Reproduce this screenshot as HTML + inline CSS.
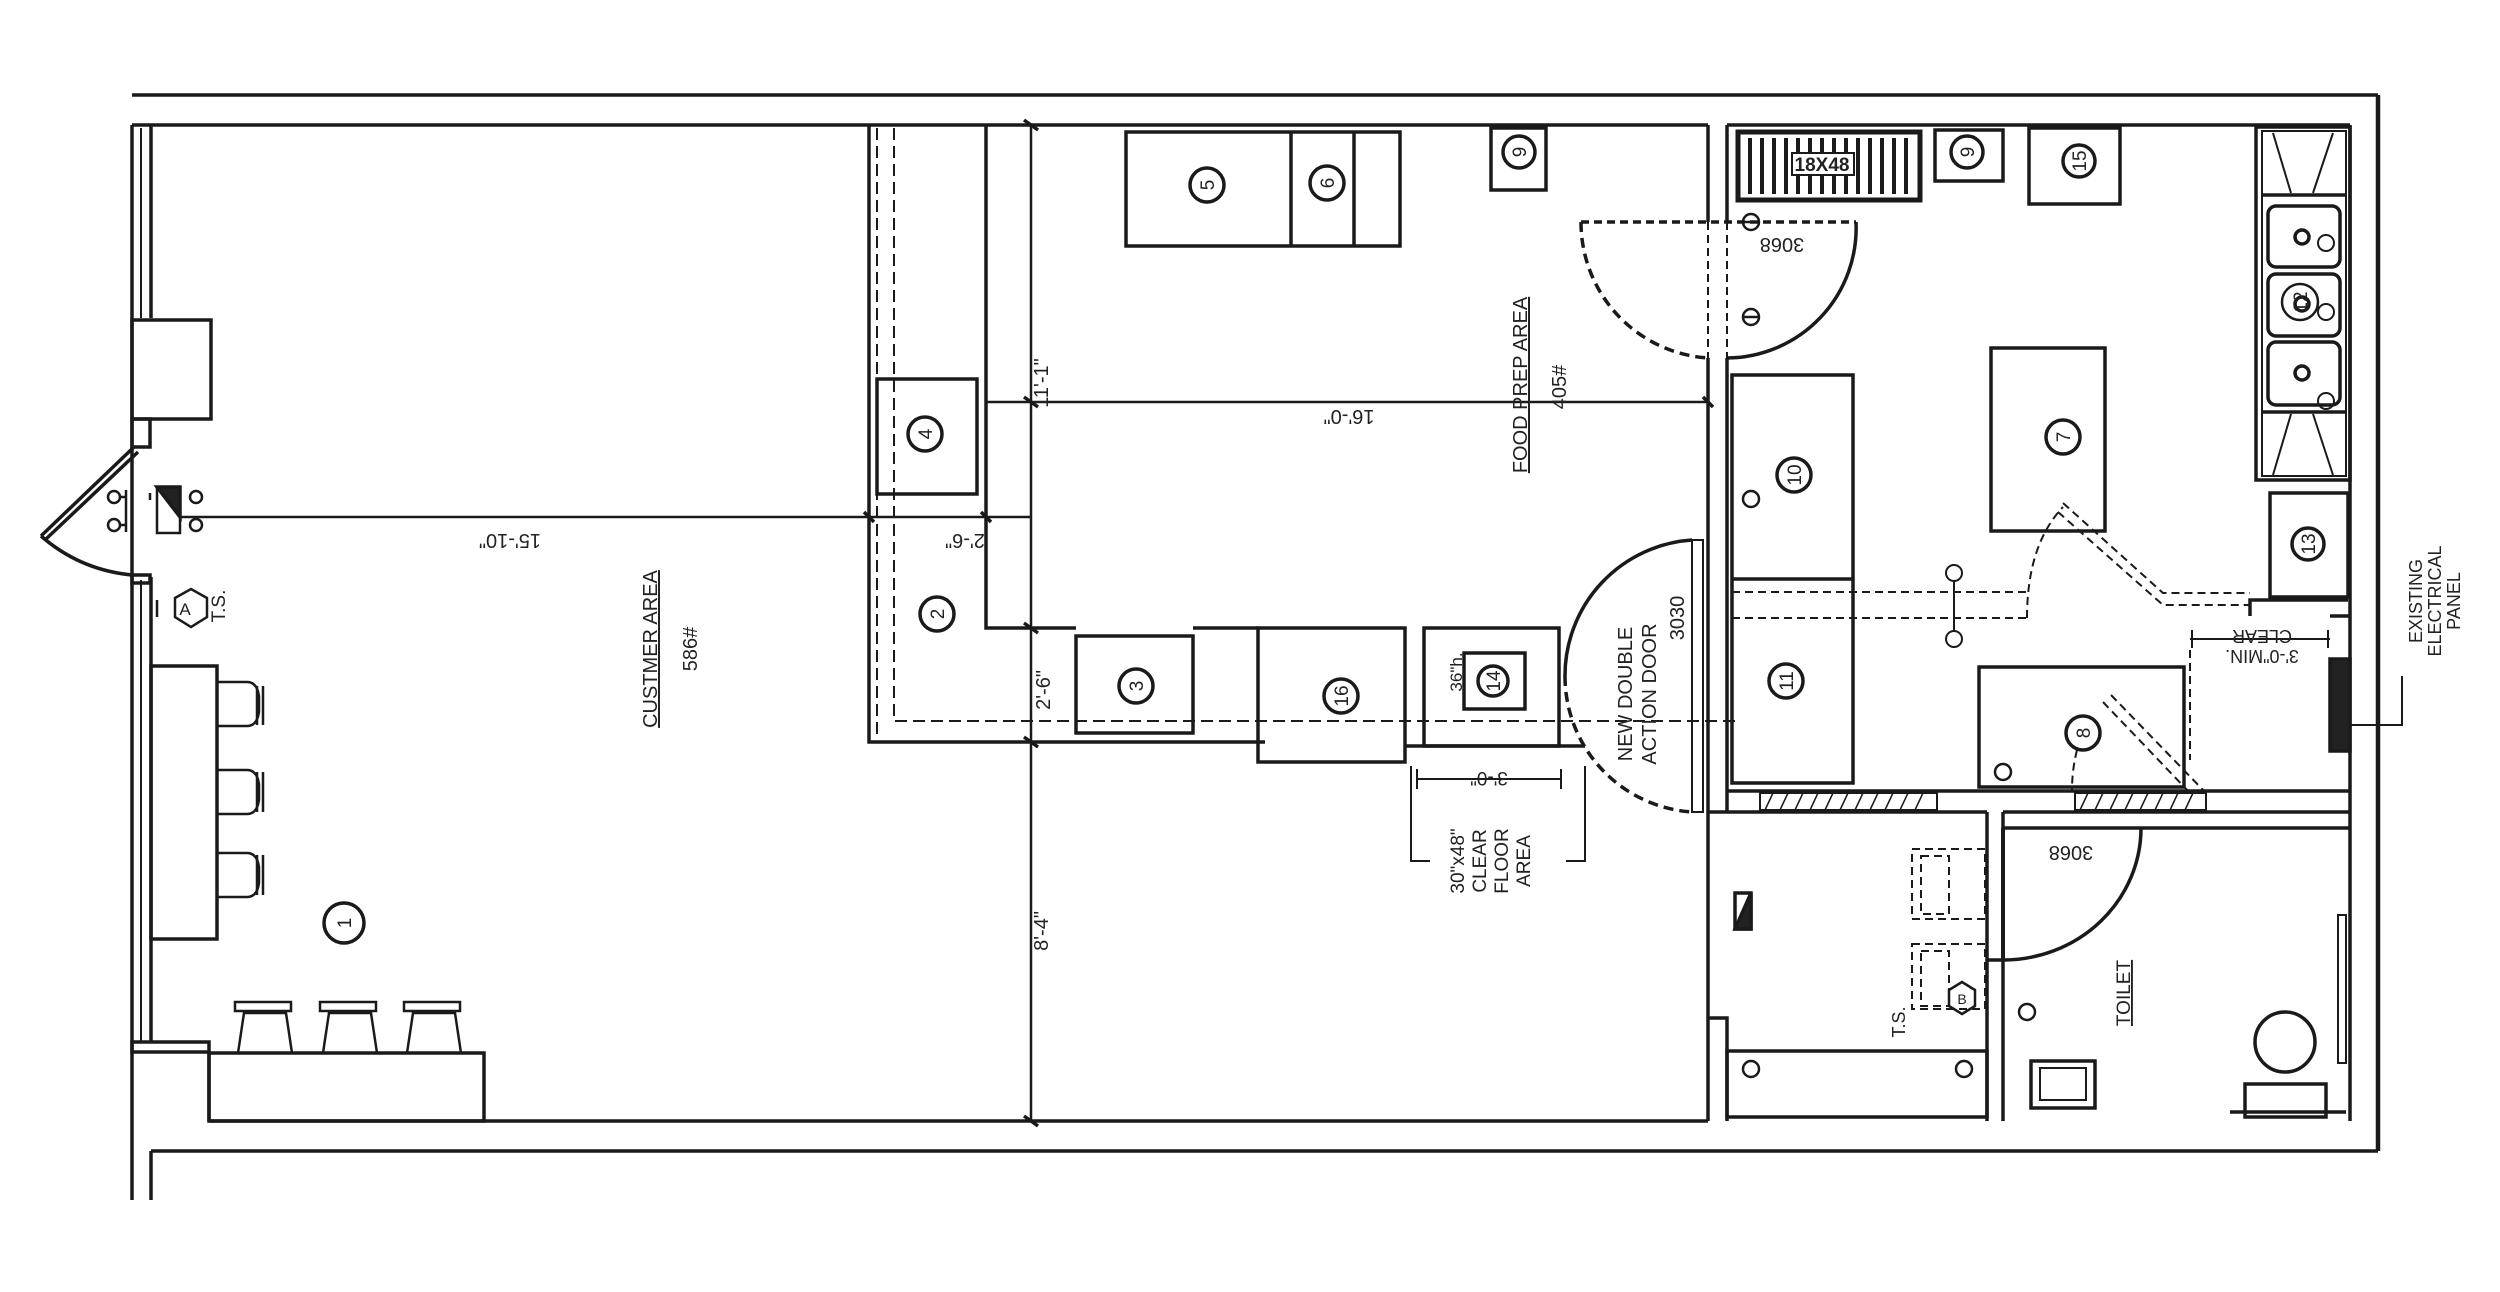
<!DOCTYPE html>
<html><head><meta charset="utf-8"><style>
html,body{margin:0;padding:0;background:#fff}
svg{display:block}
text{font-family:"Liberation Sans",sans-serif;fill:#222}
</style></head><body>
<svg width="2500" height="1292" viewBox="0 0 2500 1292" xmlns="http://www.w3.org/2000/svg">
<g stroke="#1a1a1a" stroke-width="3.5" fill="none">
<line x1="132" y1="95" x2="2378" y2="95"/>
<line x1="2378" y1="95" x2="2378" y2="1151" stroke-width="4.5"/>
<line x1="151" y1="1151" x2="2378" y2="1151"/>
<line x1="151" y1="1151" x2="151" y2="1200"/>
<line x1="132" y1="125" x2="132" y2="1200"/>
<line x1="132" y1="125" x2="1708" y2="125"/>
<line x1="1727" y1="125" x2="2350" y2="125"/>
<line x1="2350" y1="125" x2="2350" y2="1121"/>
<line x1="209" y1="1121" x2="1708" y2="1121"/>
<line x1="151" y1="125" x2="151" y2="318"/>
<line x1="141" y1="128" x2="141" y2="318" stroke-width="2"/>
<rect x="132" y="320" width="79" height="99"/>
<rect x="132" y="419" width="18" height="28"/>
<line x1="151" y1="577" x2="151" y2="1042"/>
<line x1="141" y1="580" x2="141" y2="1042" stroke-width="2"/>
<rect x="132" y="575" width="18" height="8"/>
<rect x="132" y="1042" width="77" height="10"/>
<line x1="209" y1="1052" x2="209" y2="1121"/>
<line x1="134" y1="447" x2="41" y2="536"/>
<line x1="138" y1="452" x2="46" y2="539"/>
<path d="M41 536 Q80 570 132 575"/>
<rect x="151" y="666" width="66" height="273"/>
<g stroke-width="2.5">
<path d="M217 682 h30 q10 0 12 14 v16 q-2 14 -12 14 h-30"/><line x1="257" y1="686" x2="257" y2="725"/><line x1="263" y1="686" x2="263" y2="725"/>
<path d="M217 770 h30 q10 0 12 14 v16 q-2 14 -12 14 h-30"/><line x1="257" y1="772" x2="257" y2="812"/><line x1="263" y1="772" x2="263" y2="812"/>
<path d="M217 853 h30 q10 0 12 14 v16 q-2 14 -12 14 h-30"/><line x1="257" y1="855" x2="257" y2="895"/><line x1="263" y1="855" x2="263" y2="895"/>
</g>
<rect x="209" y="1053" width="275" height="68"/>
<g stroke-width="2.5">
<rect x="235" y="1002" width="56" height="9"/><path d="M238 1053 l6 -40 h42 l6 40"/>
<rect x="320" y="1002" width="56" height="9"/><path d="M323 1053 l6 -40 h42 l6 40"/>
<rect x="404" y="1002" width="56" height="9"/><path d="M407 1053 l6 -40 h42 l6 40"/>
</g>
<circle cx="344" cy="923" r="20"/>
<g stroke-width="2.5">
<circle cx="114" cy="497" r="6"/><circle cx="114" cy="525" r="6"/><line x1="120" y1="497" x2="126" y2="497"/><line x1="120" y1="525" x2="126" y2="525"/><line x1="126" y1="490" x2="126" y2="532"/>
<line x1="150" y1="493" x2="150" y2="500"/>
<rect x="157" y="487" width="23" height="46"/>
<circle cx="196" cy="497" r="6"/><circle cx="196" cy="525" r="6"/>
</g>
<polygon points="157,487 180,487 180,517" fill="#222"/>
<line x1="180" y1="517" x2="1031" y2="517" stroke-width="2.5"/>
<polygon points="175,598 191,589 207,598 207,617 191,627 175,617" stroke-width="2.5"/>
<line x1="157" y1="600" x2="157" y2="617" stroke-width="2.5"/>
<polyline points="869,125 869,742 1265,742"/>
<polyline points="877,128 877,735" stroke-dasharray="12 6" stroke-width="2"/>
<polyline points="894,128 894,721 1740,721" stroke-dasharray="12 6" stroke-width="2"/>
<polyline points="986,125 986,628 1076,628"/>
<rect x="877" y="379" width="100" height="115"/>
<circle cx="925" cy="434" r="17"/>
<circle cx="937" cy="614" r="17"/>
<rect x="1076" y="636" width="117" height="97"/>
<circle cx="1136" cy="686" r="17"/>
<line x1="1193" y1="628" x2="1258" y2="628"/>
<line x1="1031" y1="125" x2="1031" y2="1121" stroke-width="2.5"/>
<line x1="1024" y1="120" x2="1038" y2="130"/><line x1="1024" y1="397" x2="1038" y2="407"/><line x1="1024" y1="623" x2="1038" y2="633"/><line x1="1024" y1="737" x2="1038" y2="747"/><line x1="1024" y1="1116" x2="1038" y2="1126"/>
<line x1="986" y1="402" x2="1708" y2="402" stroke-width="2.5"/>
<line x1="864" y1="512" x2="874" y2="522"/><line x1="981" y1="512" x2="991" y2="522"/><line x1="1703" y1="397" x2="1713" y2="407"/>
<rect x="1126" y="132" width="274" height="114"/>
<line x1="1291" y1="132" x2="1291" y2="246"/><line x1="1354" y1="132" x2="1354" y2="246"/>
<circle cx="1207" cy="185" r="17"/><circle cx="1327" cy="183" r="17"/>
<rect x="1491" y="128" width="55" height="62"/><circle cx="1519" cy="152" r="16"/>
<rect x="1258" y="628" width="147" height="134"/><circle cx="1341" cy="696" r="17"/>
<rect x="1424" y="628" width="135" height="118"/><rect x="1464" y="653" width="61" height="56"/><circle cx="1493" cy="681" r="15"/>
<line x1="1405" y1="746" x2="1585" y2="746"/>
<polyline points="1411,766 1411,861 1430,861" stroke-width="2"/><polyline points="1585,766 1585,861 1566,861" stroke-width="2"/>
<line x1="1417" y1="779" x2="1561" y2="779" stroke-width="2"/>
<line x1="1417" y1="769" x2="1417" y2="789" stroke-width="2"/><line x1="1561" y1="769" x2="1561" y2="789" stroke-width="2"/>
<line x1="1708" y1="125" x2="1708" y2="222"/><line x1="1727" y1="125" x2="1727" y2="222"/>
<line x1="1708" y1="358" x2="1708" y2="1121"/><line x1="1727" y1="358" x2="1727" y2="812"/>
<line x1="1708" y1="222" x2="1708" y2="358" stroke-dasharray="8 5" stroke-width="2"/><line x1="1727" y1="222" x2="1727" y2="358" stroke-dasharray="8 5" stroke-width="2"/>
<line x1="1581" y1="222" x2="1856" y2="222" stroke-dasharray="8 5"/>
<path d="M1581 222 A136 136 0 0 0 1708 358" stroke-dasharray="10 6"/>
<path d="M1856 222 A130 130 0 0 1 1727 358"/>
<g stroke-width="2.5"><circle cx="1751" cy="222" r="8"/><circle cx="1751" cy="317" r="8"/><line x1="1743" y1="222" x2="1759" y2="222"/><line x1="1743" y1="317" x2="1759" y2="317"/></g>
<rect x="1738" y="132" width="182" height="68" stroke-width="5"/>
<g stroke-width="4">
<line x1="1750" y1="138" x2="1750" y2="194"/><line x1="1762" y1="138" x2="1762" y2="194"/><line x1="1774" y1="138" x2="1774" y2="194"/><line x1="1786" y1="138" x2="1786" y2="194"/><line x1="1798" y1="138" x2="1798" y2="194"/><line x1="1810" y1="138" x2="1810" y2="194"/><line x1="1822" y1="138" x2="1822" y2="194"/><line x1="1834" y1="138" x2="1834" y2="194"/><line x1="1846" y1="138" x2="1846" y2="194"/><line x1="1858" y1="138" x2="1858" y2="194"/><line x1="1870" y1="138" x2="1870" y2="194"/><line x1="1882" y1="138" x2="1882" y2="194"/><line x1="1894" y1="138" x2="1894" y2="194"/><line x1="1906" y1="138" x2="1906" y2="194"/>
</g>
<rect x="1792" y="153" width="62" height="22" fill="#fff" stroke-width="2"/>
<rect x="1935" y="130" width="68" height="51"/><circle cx="1967" cy="152" r="16"/>
<rect x="2029" y="128" width="91" height="76"/><circle cx="2079" cy="161" r="16"/>
<rect x="2256" y="127" width="94" height="353"/>
<rect x="2262" y="131" width="84" height="345" stroke-width="2"/>
<line x1="2262" y1="195" x2="2346" y2="195"/><line x1="2262" y1="412" x2="2346" y2="412"/>
<polyline points="2273,133 2291,193" stroke-width="2"/><polyline points="2333,133 2313,193" stroke-width="2"/>
<polyline points="2273,475 2291,414" stroke-width="2"/><polyline points="2333,475 2313,414" stroke-width="2"/>
<rect x="2268" y="206" width="72" height="61" rx="8"/><rect x="2268" y="274" width="72" height="62" rx="8"/><rect x="2268" y="342" width="72" height="63" rx="8"/>
<circle cx="2302" cy="237" r="7"/><circle cx="2302" cy="304" r="7"/><circle cx="2302" cy="373" r="7"/>
<circle cx="2300" cy="302" r="18" stroke-width="2.5"/>
<g stroke-width="2"><circle cx="2326" cy="243" r="8"/><circle cx="2326" cy="312" r="8"/><circle cx="2326" cy="401" r="8"/></g>
<rect x="2270" y="493" width="78" height="104"/><circle cx="2308" cy="544" r="16"/>
<polyline points="2250,616 2250,600 2348,600"/><line x1="2330" y1="616" x2="2350" y2="616"/>
<rect x="1991" y="348" width="114" height="183"/><circle cx="2063" cy="437" r="17"/>
<rect x="1732" y="375" width="121" height="408"/><line x1="1732" y1="579" x2="1853" y2="579"/>
<circle cx="1794" cy="475" r="17"/><circle cx="1786" cy="681" r="17"/>
<circle cx="1751" cy="499" r="8" stroke-width="2.5"/>
<g stroke-dasharray="8 5" stroke-width="2">
<polyline points="1732,592 2027,592"/><polyline points="1732,618 2027,618"/>
<path d="M2027 618 Q2027 545 2063 507"/>
<polyline points="2063,503 2163,593 2250,593"/><polyline points="2058,512 2163,605 2250,605"/>
</g>
<g stroke-width="2"><circle cx="1954" cy="573" r="8"/><circle cx="1954" cy="639" r="8"/><line x1="1954" y1="581" x2="1954" y2="631"/></g>
<line x1="2190" y1="639" x2="2330" y2="639" stroke-width="2"/>
<line x1="2192" y1="630" x2="2192" y2="648" stroke-width="2"/><line x1="2328" y1="630" x2="2328" y2="648" stroke-width="2"/>
<line x1="2190" y1="650" x2="2190" y2="760" stroke-dasharray="8 5" stroke-width="2"/>
<rect x="1979" y="667" width="205" height="120"/><circle cx="2083" cy="733" r="17"/>
<polyline points="2111,695 2206,793" stroke-dasharray="8 5" stroke-width="2"/><polyline points="2103,702 2190,793" stroke-dasharray="8 5" stroke-width="2"/>
<path d="M2077 750 Q2072 770 2072 790" stroke-dasharray="8 5" stroke-width="2"/>
<circle cx="2003" cy="772" r="8" stroke-width="2.5"/>
<rect x="2330" y="659" width="20" height="92" fill="#222"/>
<polyline points="2350,725 2402,725 2402,676" stroke-width="2"/>
<line x1="1727" y1="791" x2="2350" y2="791"/><line x1="1708" y1="812" x2="1987" y2="812"/><line x1="2003" y1="812" x2="2350" y2="812"/>
<rect x="1760" y="793" width="177" height="17" stroke-width="2"/><rect x="2075" y="793" width="131" height="17" stroke-width="2"/>
<g stroke-width="1.5">
<path d="M1765 810 l8 -17 M1780 810 l8 -17 M1795 810 l8 -17 M1810 810 l8 -17 M1825 810 l8 -17 M1840 810 l8 -17 M1855 810 l8 -17 M1870 810 l8 -17 M1885 810 l8 -17 M1900 810 l8 -17 M1915 810 l8 -17"/>
<path d="M2080 810 l8 -17 M2095 810 l8 -17 M2110 810 l8 -17 M2125 810 l8 -17 M2140 810 l8 -17 M2155 810 l8 -17 M2170 810 l8 -17 M2185 810 l8 -17"/>
</g>
<rect x="1692" y="540" width="11" height="272" stroke-width="2"/>
<path d="M1692 540 A136 136 0 0 0 1565 676"/>
<path d="M1565 676 A136 136 0 0 0 1692 812" stroke-dasharray="10 6"/>
<polyline points="1987,812 1987,1121"/>
<polyline points="2003,812 2003,828"/>
<polyline points="2003,960 2003,1121"/>
<line x1="2003" y1="828" x2="2350" y2="828"/>
<line x1="2003" y1="828" x2="2003" y2="960" stroke-width="4"/>
<path d="M2141 828 A138 132 0 0 1 2003 960"/>
<line x1="1987" y1="960" x2="2003" y2="960"/>
<circle cx="2285" cy="1042" r="30"/>
<rect x="2245" y="1084" width="81" height="33"/>
<line x1="2230" y1="1112" x2="2346" y2="1112"/>
<rect x="2031" y="1061" width="64" height="47"/><rect x="2040" y="1068" width="46" height="32" stroke-width="2"/>
<rect x="2338" y="915" width="8" height="148" stroke-width="2"/>
<circle cx="2027" cy="1012" r="8" stroke-width="2.5"/>
<polyline points="1708,1018 1727,1018 1727,1121"/>
<rect x="1727" y="1051" width="260" height="66"/>
<circle cx="1751" cy="1069" r="8" stroke-width="2.5"/><circle cx="1964" cy="1069" r="8" stroke-width="2.5"/>
<polygon points="1949,990 1962,982 1975,990 1975,1006 1962,1014 1949,1006" stroke-width="2.5"/>
<g stroke-dasharray="8 5" stroke-width="2">
<rect x="1912" y="849" width="73" height="70"/><rect x="1912" y="944" width="73" height="65"/>
<rect x="1921" y="856" width="28" height="58"/><rect x="1921" y="951" width="28" height="55"/>
</g>
<rect x="1735" y="893" width="16" height="36"/>
<polygon points="1751,893 1751,929 1735,929" fill="#222"/>
</g>
<g font-size="19" text-anchor="middle">
<text x="185" y="615" font-size="17">A</text>
<text transform="translate(225,606) rotate(-90)">T.S.</text>
<text transform="translate(344,923) rotate(-90)" dy="7">1</text>
<text transform="translate(925,434) rotate(-90)" dy="7">4</text>
<text transform="translate(937,614) rotate(-90)" dy="7">2</text>
<text transform="translate(1136,686) rotate(-90)" dy="7">3</text>
<text transform="translate(1207,185) rotate(-90)" dy="7">5</text>
<text transform="translate(1327,183) rotate(-90)" dy="7">6</text>
<text transform="translate(1519,152) rotate(-90)" dy="7">9</text>
<text transform="translate(1967,152) rotate(-90)" dy="7">9</text>
<text transform="translate(2079,161) rotate(-90)" dy="7">15</text>
<text transform="translate(2308,544) rotate(-90)" dy="7">13</text>
<text transform="translate(2300,302) rotate(-90)" dy="7">12</text>
<text transform="translate(2063,437) rotate(-90)" dy="7">7</text>
<text transform="translate(1794,475) rotate(-90)" dy="7">10</text>
<text transform="translate(1786,681) rotate(-90)" dy="7">11</text>
<text transform="translate(2083,733) rotate(-90)" dy="7">8</text>
<text transform="translate(1341,696) rotate(-90)" dy="7">16</text>
<text transform="translate(1493,681) rotate(-90)" dy="7">14</text>
<text transform="translate(1456,672) rotate(-90)" dy="6" font-size="17">36"h.</text>
<text transform="translate(510,534) rotate(180)" font-size="20">15'-10"</text>
<text transform="translate(965,534) rotate(180)" font-size="20">2'-6"</text>
<text transform="translate(1349,410) rotate(180)" font-size="20">16'-0"</text>
<text transform="translate(1048,383) rotate(-90)" font-size="20">11'-1"</text>
<text transform="translate(1050,690) rotate(-90)" font-size="20">2'-6"</text>
<text transform="translate(1048,931) rotate(-90)" font-size="20">8'-4"</text>
<text transform="translate(657,649) rotate(-90)" font-size="20" text-decoration="underline">CUSTMER AREA</text>
<text transform="translate(697,649) rotate(-90)" font-size="20">586#</text>
<text transform="translate(1527,385) rotate(-90)" font-size="20" text-decoration="underline">FOOD PREP AREA</text>
<text transform="translate(1566,387) rotate(-90)" font-size="20">405#</text>
<text transform="translate(1632,694) rotate(-90)" font-size="20">NEW DOUBLE</text>
<text transform="translate(1656,694) rotate(-90)" font-size="20">ACTION DOOR</text>
<text transform="translate(1684,618) rotate(-90)" font-size="20">3030</text>
<text transform="translate(1782,238) rotate(180)" font-size="20">3068</text>
<text transform="translate(2071,846) rotate(180)" font-size="20">3068</text>
<text transform="translate(1489,772) rotate(180)" font-size="19">3'-0"</text>
<text transform="translate(1464,861) rotate(-90)" font-size="19">30"x48"</text>
<text transform="translate(1486,861) rotate(-90)" font-size="19">CLEAR</text>
<text transform="translate(1508,861) rotate(-90)" font-size="19">FLOOR</text>
<text transform="translate(1530,861) rotate(-90)" font-size="19">AREA</text>
<text x="1822" y="171" font-size="19" font-weight="bold">18X48</text>
<text transform="translate(2262,630) rotate(180)" font-size="18">CLEAR</text>
<text transform="translate(2262,650) rotate(180)" font-size="18">3'-0"MIN.</text>
<text transform="translate(2422,601) rotate(-90)" font-size="18">EXISTING</text>
<text transform="translate(2441,601) rotate(-90)" font-size="18">ELECTRICAL</text>
<text transform="translate(2460,601) rotate(-90)" font-size="18">PANEL</text>
<text transform="translate(2130,993) rotate(-90)" font-size="19" text-decoration="underline">TOILET</text>
<text transform="translate(1905,1022) rotate(-90)" font-size="18">T.S.</text>
<text x="1962" y="1004" font-size="14">B</text>
</g>
</svg>
</body></html>
